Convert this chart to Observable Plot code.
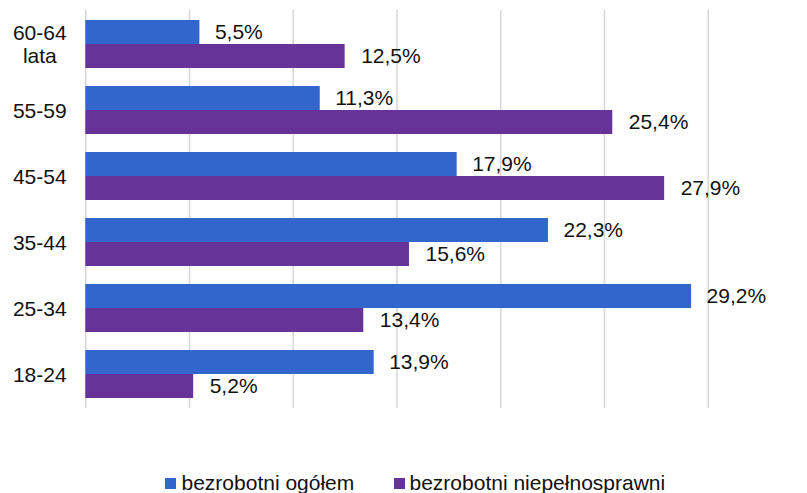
<!DOCTYPE html>
<html>
<head>
<meta charset="utf-8">
<script src="https://cdn.jsdelivr.net/npm/d3@7"></script>
<script src="https://cdn.jsdelivr.net/npm/@observablehq/plot@0.6"></script>
<style>
  body { margin: 0; background: #fff; font-family: "Liberation Sans", Arial, sans-serif; }
  #wrap { width: 807px; }
  #legend { position: relative; width: 807px; height: 33px; font-size: 21px; color: #111; }
  #legend .sw { position: absolute; width: 11px; height: 11px; top: 18px; }
  #legend .lb { position: absolute; top: 12px; line-height: 21px; white-space: nowrap; }
</style>
</head>
<body>
<div id="wrap"></div>
<script>
const categories = ["60-64\nlata", "55-59", "45-54", "35-44", "25-34", "18-24"];
const ogolem = [5.5, 11.3, 17.9, 22.3, 29.2, 13.9];
const niepelnosprawni = [12.5, 25.4, 27.9, 15.6, 13.4, 5.2];
const seriesNames = ["bezrobotni ogółem", "bezrobotni niepełnosprawni"];
const seriesColors = ["#3366cc", "#663399"];
const xTicks = [0, 5, 10, 15, 20, 25, 30];

const fmt = v => v.toFixed(1).replace(".", ",") + "%";
const dataA = categories.map((c, i) => ({c, v: ogolem[i]}));
const dataB = categories.map((c, i) => ({c, v: niepelnosprawni[i]}));

const chart = Plot.plot({
  width: 807,
  height: 460,
  marginLeft: 85.3,
  marginRight: 99.3,
  marginTop: 10,
  marginBottom: 52,
  style: {fontFamily: "Liberation Sans, Arial, sans-serif", fontSize: "21px", color: "#111", background: "#fff"},
  x: {domain: [0, 30], axis: null},
  y: {domain: categories, paddingInner: 0.276, paddingOuter: 0.138, axis: null},
  marks: [
    Plot.ruleX(xTicks, {stroke: "#d9d9d9", strokeWidth: 1.6}),
    Plot.barX(dataA, {x: "v", y: "c", fill: seriesColors[0], insetBottom: 24}),
    Plot.barX(dataB, {x: "v", y: "c", fill: seriesColors[1], insetTop: 24}),
    Plot.text(dataA, {x: "v", y: "c", text: d => fmt(d.v), dx: 15, dy: -12, textAnchor: "start", fontSize: 21, fill: "#111"}),
    Plot.text(dataB, {x: "v", y: "c", text: d => fmt(d.v), dx: 16, dy: 12, textAnchor: "start", fontSize: 21, fill: "#111"}),
    Plot.text(categories, {y: d => d, text: d => d, frameAnchor: "left", dx: -46, textAnchor: "middle", fontSize: 21, lineHeight: 1.1, fill: "#111"})
  ]
});
document.getElementById("wrap").appendChild(chart);

const legend = document.createElement("div");
legend.id = "legend";
const swX = [165, 394];
const lbX = [181.5, 409.5];
seriesNames.forEach((name, i) => {
  const sw = document.createElement("div");
  sw.className = "sw";
  sw.style.left = swX[i] + "px";
  sw.style.background = seriesColors[i];
  legend.appendChild(sw);
  const lb = document.createElement("div");
  lb.className = "lb";
  lb.style.left = lbX[i] + "px";
  lb.textContent = name;
  legend.appendChild(lb);
});
document.getElementById("wrap").appendChild(legend);
</script>
</body>
</html>
